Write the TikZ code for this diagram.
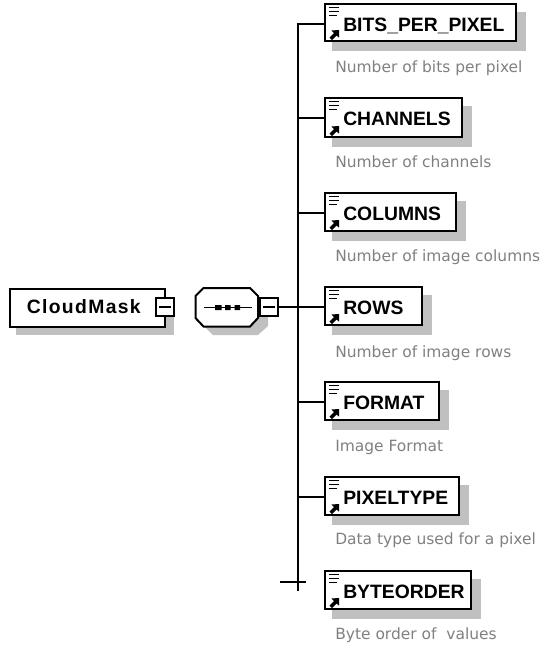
\documentclass[tikz,border=0pt]{standalone}
\usepackage{fontspec}
\setmainfont{Liberation Sans}
\newfontfamily\descfont{DejaVu Sans}
\definecolor{shade}{RGB}{192,192,192}
\definecolor{desc}{RGB}{128,128,128}
\tikzset{
  x=0.75pt,y=-0.75pt,
  wire/.style={line width=1.5pt,black},
  framed/.style={draw=black,line width=1.5pt,fill=white},
  thickframe/.style={draw=black,line width=2pt,fill=white},
  shadowbox/.style={fill=shade,draw=none},
  lab/.style={font=\fontsize{14.5}{16}\selectfont\bfseries,inner sep=0pt,anchor=base west,text=black},
  note/.style={font=\fontsize{11.6}{13}\selectfont\descfont,inner sep=0pt,anchor=base west,text=desc},
  elemnode/.style={inner sep=0pt,minimum size=0pt}
}
\newcommand{\elem}[7]{% name, right, top, bottom, label, desc, desc baseline
  \fill[shadowbox] (332,#3+8) rectangle (#2+10,#4+10);
  \draw[framed] (325,#3) rectangle (#2,#4);
  \coordinate (#1) at (325,#3+20);
  \draw[line width=1pt] (329,#3+3.5) -- (339,#3+3.5) (329,#3+7.5) -- (339,#3+7.5) (329,#3+11.5) -- (337,#3+11.5);
  \fill (329.5,#4-3.5) -- (334,#4-8) -- (331.5,#4-10.5) -- (339,#4-11) -- (339,#4-3.5) -- (336.5,#4-5.5) -- (332,#4-1) -- cycle;
  \node[lab] (#1l) at (343,#3+27) {#5};
  \node[note] (#1d) at (335,#7) {#6};
}
\begin{document}
\begin{tikzpicture}
\useasboundingbox (0,0) rectangle (543,647);
% root
\fill[shadowbox] (16,297) rectangle (174,335);
\node[framed,elemnode,minimum width=155.5*0.75pt,minimum height=37.5*0.75pt,anchor=north west] (root) at (8.5,288) {};
\node[lab,font=\fontsize{14.5}{16}\selectfont\bfseries\addfontfeature{LetterSpace=7}] (rootl) at (26.5,313) {CloudMask};
\node[thickframe,elemnode,minimum width=18*0.75pt,minimum height=18*0.75pt] (rootm) at (165,307) {};
\draw[line width=1pt] (159,307) -- (171,307);
% sequence
\fill[shadowbox] (213,297) -- (205,308) -- (205,327) -- (213,335) -- (258,335) -- (268,326) -- (268,297) -- cycle;
\draw[framed] (203.5,288) -- (250,288) -- (258,296) -- (258,318) -- (250,326.5) -- (203.5,326.5) -- (195.5,318) -- (195.5,296) -- cycle;
\draw[line width=1pt] (204,307.5) -- (252,307.5);
\fill (215,305) rectangle (221.5,310) (225,305) rectangle (230.5,310) (234.5,305) rectangle (240,310);
\node[thickframe,elemnode,minimum width=18*0.75pt,minimum height=18*0.75pt] (seqm) at (269,307) {};
\draw[line width=1pt] (263,307) -- (275,307);
% elements
\elem{a}{516}{4}{41}{BITS\_PER\_PIXEL}{Number of bits per pixel}{72}
\elem{b}{462}{98}{137}{CHANNELS}{Number of channels}{167}
\elem{c}{456}{193}{231}{COLUMNS}{Number of image columns}{261}
\elem{d}{422}{287}{325}{ROWS}{Number of image rows}{357}
\elem{e}{439}{382}{420}{FORMAT}{Image Format}{451}
\elem{f}{459}{477}{515}{PIXELTYPE}{Data type used for a pixel}{544}
\elem{g}{471}{571}{609}{BYTEORDER}{Byte order of\ \ values}{639}
% wires
\coordinate (spt) at (298,24);
\coordinate (spb) at (298,590);
\draw[wire,line cap=rect] (spt) -- (spb);
\draw[wire] (seqm.east) -- (d);
\draw[wire] (a) -- (a -| spt);
\draw[wire] (b) -- (b -| spt);
\draw[wire] (c) -- (c -| spt);
\draw[wire] (e) -- (e -| spt);
\draw[wire] (f) -- (f -| spt);
\coordinate (gs) at (280,582);
\coordinate (ge) at (306,582);
\draw[wire] (gs) -- (ge);
\end{tikzpicture}
\end{document}
